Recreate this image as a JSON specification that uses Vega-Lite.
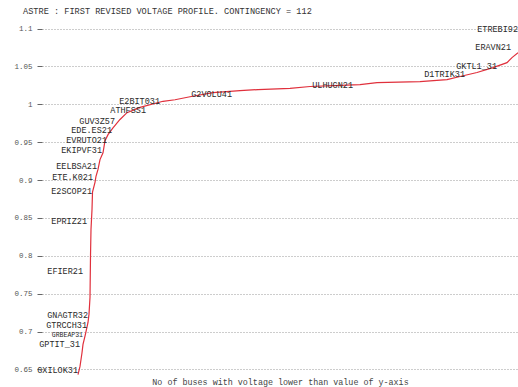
{
  "$schema": "https://vega.github.io/schema/vega-lite/v6.json",
  "autosize": "none",
  "width": 476,
  "height": 356,
  "padding": {"left": 42, "top": 21, "right": 0, "bottom": 10},
  "background": "white",
  "config": {
    "view": {"stroke": null},
    "font": "Liberation Mono"
  },
  "title": {
    "text": "ASTRE : FIRST REVISED VOLTAGE PROFILE. CONTINGENCY = 112",
    "anchor": "start",
    "dx": 9,
    "offset": 5,
    "font": "Liberation Mono",
    "fontSize": 8.6,
    "fontWeight": "normal",
    "color": "#333333"
  },
  "datasets": {
    "profile": [
      {"buses": 72, "voltage": 0.643},
      {"buses": 76, "voltage": 0.654},
      {"buses": 80, "voltage": 0.672},
      {"buses": 82, "voltage": 0.683},
      {"buses": 86, "voltage": 0.694},
      {"buses": 88, "voltage": 0.700},
      {"buses": 92, "voltage": 0.712},
      {"buses": 94, "voltage": 0.723},
      {"buses": 96, "voltage": 0.745},
      {"buses": 97, "voltage": 0.799},
      {"buses": 98, "voltage": 0.835},
      {"buses": 100, "voltage": 0.861},
      {"buses": 101, "voltage": 0.884},
      {"buses": 106, "voltage": 0.897},
      {"buses": 108, "voltage": 0.905},
      {"buses": 112, "voltage": 0.914},
      {"buses": 116, "voltage": 0.927},
      {"buses": 122, "voltage": 0.936},
      {"buses": 126, "voltage": 0.952},
      {"buses": 132, "voltage": 0.960},
      {"buses": 142, "voltage": 0.969},
      {"buses": 156, "voltage": 0.980},
      {"buses": 170, "voltage": 0.989},
      {"buses": 196, "voltage": 0.996},
      {"buses": 242, "voltage": 1.004},
      {"buses": 266, "voltage": 1.006},
      {"buses": 296, "voltage": 1.010},
      {"buses": 342, "voltage": 1.0155},
      {"buses": 396, "voltage": 1.018},
      {"buses": 432, "voltage": 1.0195},
      {"buses": 496, "voltage": 1.021},
      {"buses": 536, "voltage": 1.0235},
      {"buses": 596, "voltage": 1.025},
      {"buses": 636, "voltage": 1.026},
      {"buses": 670, "voltage": 1.0287},
      {"buses": 756, "voltage": 1.030},
      {"buses": 810, "voltage": 1.0327},
      {"buses": 836, "voltage": 1.0367},
      {"buses": 870, "voltage": 1.042},
      {"buses": 902, "voltage": 1.0485},
      {"buses": 930, "voltage": 1.055},
      {"buses": 940, "voltage": 1.0617},
      {"buses": 952, "voltage": 1.068}
    ],
    "names": [
      {"buses": 952, "voltage": 1.100, "bus": "ETREBI92"},
      {"buses": 938, "voltage": 1.0762, "bus": "ERAVN21"},
      {"buses": 910, "voltage": 1.0512, "bus": "GKTL1_31"},
      {"buses": 846, "voltage": 1.0406, "bus": "D1TRIK31"},
      {"buses": 622, "voltage": 1.0261, "bus": "ULHUGN21"},
      {"buses": 380, "voltage": 1.0142, "bus": "G2VOLU41"},
      {"buses": 236, "voltage": 1.0040, "bus": "E2BIT031"},
      {"buses": 208, "voltage": 0.9925, "bus": "ATHFSS1"},
      {"buses": 146, "voltage": 0.9778, "bus": "GUV3Z57"},
      {"buses": 140, "voltage": 0.9662, "bus": "EDE.ES21"},
      {"buses": 130, "voltage": 0.9535, "bus": "EVRUTO21"},
      {"buses": 120, "voltage": 0.9403, "bus": "EKIPVF31"},
      {"buses": 110, "voltage": 0.9192, "bus": "EELBSA21"},
      {"buses": 102, "voltage": 0.9047, "bus": "ETE.K021"},
      {"buses": 100, "voltage": 0.8862, "bus": "E2SCOP21"},
      {"buses": 90, "voltage": 0.8453, "bus": "EPRIZ21"},
      {"buses": 82, "voltage": 0.7793, "bus": "EFIER21"},
      {"buses": 92, "voltage": 0.7220, "bus": "GNAGTR32"},
      {"buses": 90, "voltage": 0.7085, "bus": "GTRCCH31"},
      {"buses": 82, "voltage": 0.6955, "bus": "GRBEAP31"},
      {"buses": 76, "voltage": 0.6835, "bus": "GPTIT_31"},
      {"buses": 72, "voltage": 0.6487, "bus": "GXILOK31"}
    ]
  },
  "encoding": {
    "x": {
      "field": "buses",
      "type": "quantitative",
      "scale": {"domain": [0, 952], "nice": false, "zero": false},
      "axis": {
        "title": "No of buses with voltage lower than value of y-axis",
        "titleFont": "Liberation Mono",
        "titleFontSize": 8.4,
        "titleFontWeight": "normal",
        "titleColor": "#444444",
        "titlePadding": 0,
        "labels": false,
        "ticks": false,
        "domain": false,
        "grid": false
      }
    },
    "y": {
      "field": "voltage",
      "type": "quantitative",
      "scale": {"domain": [0.64, 1.11], "nice": false, "zero": false},
      "axis": {
        "title": null,
        "values": [0.65, 0.7, 0.75, 0.8, 0.85, 0.9, 0.95, 1, 1.05, 1.1],
        "labelExpr": "toString(datum.value)",
        "labelFont": "Liberation Mono",
        "labelFontSize": 7.5,
        "labelColor": "#555555",
        "labelPadding": 5,
        "tickSize": 5,
        "tickColor": "#666666",
        "domain": false,
        "grid": true,
        "gridColor": "#9a9a9a",
        "gridDash": [1, 2],
        "gridWidth": 1
      }
    }
  },
  "layer": [
    {
      "data": {"name": "profile"},
      "mark": {"type": "line", "color": "#e0303c", "strokeWidth": 1.2, "clip": true}
    },
    {
      "data": {"name": "names"},
      "transform": [{"filter": "datum.bus !== 'GRBEAP31'"}],
      "mark": {
        "type": "text",
        "align": "right",
        "baseline": "middle",
        "font": "Liberation Mono",
        "fontSize": 8.5,
        "color": "#2a2a2a"
      },
      "encoding": {"text": {"field": "bus", "type": "nominal"}}
    },
    {
      "data": {"name": "names"},
      "transform": [{"filter": "datum.bus === 'GRBEAP31'"}],
      "mark": {
        "type": "text",
        "align": "right",
        "baseline": "middle",
        "font": "Liberation Mono",
        "fontSize": 6.5,
        "color": "#2a2a2a"
      },
      "encoding": {"text": {"field": "bus", "type": "nominal"}}
    }
  ]
}
